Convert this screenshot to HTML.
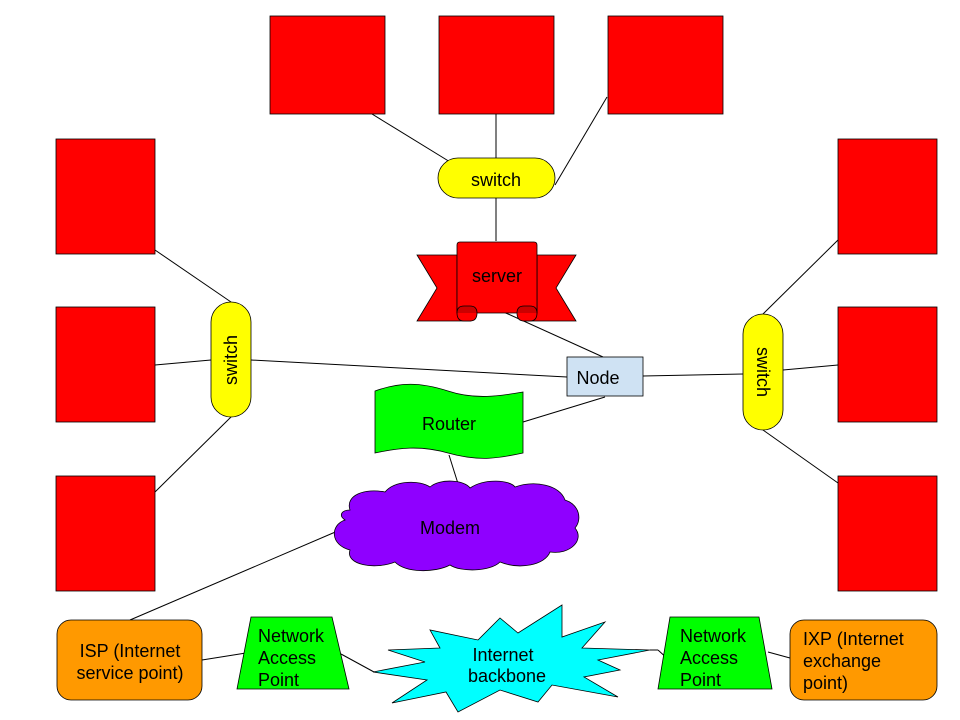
<!DOCTYPE html>
<html><head><meta charset="utf-8"><style>
html,body{margin:0;padding:0;background:#fff;width:960px;height:720px;overflow:hidden}
svg{display:block}
text{font-family:"Liberation Sans",Arial,sans-serif;font-size:18px;fill:#000}
</style></head><body>
<svg width="960" height="720" viewBox="0 0 960 720" xmlns="http://www.w3.org/2000/svg">
<g stroke="#000" stroke-width="1" fill="none">
<line x1="372" y1="114" x2="455" y2="165"/>
<line x1="496" y1="114" x2="496" y2="158"/>
<line x1="607" y1="97" x2="555" y2="185"/>
<line x1="496" y1="198" x2="496" y2="241"/>
<line x1="497" y1="309" x2="603" y2="357"/>
<line x1="251" y1="360" x2="567" y2="377"/>
<line x1="643" y1="376" x2="743" y2="374"/>
<line x1="605" y1="397" x2="523" y2="422"/>
<line x1="449" y1="455" x2="460" y2="490"/>
<line x1="340" y1="530" x2="130" y2="620"/>
<line x1="231" y1="302" x2="155" y2="250"/>
<line x1="211" y1="360" x2="155" y2="365"/>
<line x1="231" y1="417" x2="155" y2="492"/>
<line x1="763" y1="314" x2="838" y2="240"/>
<line x1="783" y1="370" x2="838" y2="365"/>
<line x1="763" y1="430" x2="838" y2="483"/>
<line x1="202" y1="660" x2="246" y2="653"/>
<line x1="341" y1="654" x2="374" y2="672"/>
<line x1="650" y1="650" x2="658" y2="650"/>
<line x1="658" y1="650" x2="669" y2="660"/>
<line x1="768" y1="652" x2="790" y2="658"/>
</g>
<g fill="#ff0000" stroke="#000" stroke-width="0.8">
<rect x="270" y="16" width="115" height="98"/>
<rect x="439" y="16" width="115" height="98"/>
<rect x="608" y="16" width="115" height="98"/>
<rect x="56" y="139" width="99" height="115"/>
<rect x="56" y="307" width="99" height="115"/>
<rect x="56" y="476" width="99" height="115"/>
<rect x="838" y="139" width="99" height="115"/>
<rect x="838" y="307" width="99" height="115"/>
<rect x="838" y="476" width="99" height="115"/>
</g>
<g fill="#ffff00" stroke="#000" stroke-width="0.8">
<rect x="438" y="158" width="117" height="40" rx="20"/>
<rect x="211" y="302" width="40" height="115" rx="20"/>
<rect x="743" y="314" width="40" height="116" rx="20"/>
</g>
<text x="496" y="186" text-anchor="middle">switch</text>
<text transform="translate(237,360) rotate(-90)" text-anchor="middle">switch</text>
<text transform="translate(757,372) rotate(90)" text-anchor="middle">switch</text>
<g fill="#ff0000" stroke="#000" stroke-width="0.8">
<polygon points="417,255 457,255 457,313 470,321 417,321 437,288"/>
<polygon points="576,255 537,255 537,313 524,321 576,321 556,288"/>
<path d="M460,242 H534 Q537,242 537,245 V313 Q537,321 530,321 H524 Q517,321 517,313 H477 Q477,321 470,321 H464 Q457,321 457,313 V245 Q457,242 460,242 Z" fill="#ff0000"/>
<path d="M457,313 Q457,306 464,306 H470 Q477,306 477,313" fill="#cc0000"/>
<path d="M517,313 Q517,306 524,306 H530 Q537,306 537,313" fill="#cc0000"/>
</g>
<text x="497" y="282" text-anchor="middle">server</text>
<rect x="567" y="357" width="76" height="39" fill="#cfe2f3" stroke="#000" stroke-width="0.8"/>
<text x="598" y="384" text-anchor="middle">Node</text>
<path d="M375,391 C400,382 420,382 448,391 C475,400 500,396 523,392 V453 C500,458 480,462 448,453 C420,445 398,448 375,453 Z" fill="#00ff00" stroke="#000" stroke-width="0.8"/>
<text x="449" y="430" text-anchor="middle">Router</text>
<path d="M350,510 C345,495 365,488 385,492 C395,480 420,480 430,487 C440,478 465,480 470,488 C485,478 510,480 515,487 C535,480 560,485 565,500 C580,505 582,520 575,528 C585,540 570,555 550,552 C545,565 520,570 500,562 C490,572 460,572 450,565 C435,573 405,573 395,562 C375,570 345,565 350,550 C330,545 330,525 345,520 C338,515 342,510 350,510 Z" fill="#8f00ff" stroke="#000" stroke-width="0.8"/>
<text x="450" y="534" text-anchor="middle">Modem</text>
<rect x="57" y="620" width="145" height="80" rx="14" fill="#ff9900" stroke="#000" stroke-width="0.8"/>
<text x="130" y="657" text-anchor="middle">ISP (Internet</text>
<text x="130" y="679" text-anchor="middle">service point)</text>
<rect x="790" y="620" width="147" height="80" rx="14" fill="#ff9900" stroke="#000" stroke-width="0.8"/>
<text x="803" y="645">IXP (Internet</text>
<text x="803" y="667">exchange</text>
<text x="803" y="689">point)</text>
<polygon points="251,617 332,617 349,689 237,689" fill="#00ff00" stroke="#000" stroke-width="0.8"/>
<text x="258" y="642">Network</text>
<text x="258" y="664">Access</text>
<text x="258" y="686">Point</text>
<polygon points="670,617 759,617 772,689 658,689" fill="#00ff00" stroke="#000" stroke-width="0.8"/>
<text x="680" y="642">Network</text>
<text x="680" y="664">Access</text>
<text x="680" y="686">Point</text>
<polygon points="373,672 425,662 388,650 440,648 430,630 478,640 500,618 518,633 562,605 562,637 605,622 582,648 650,650 598,660 620,670 584,677 618,697 552,685 538,702 500,690 458,712 446,692 392,703 427,680" fill="#00ffff" stroke="#000" stroke-width="0.8"/>
<text x="503" y="661" text-anchor="middle">Internet</text>
<text x="507" y="682" text-anchor="middle">backbone</text>
</svg>
</body></html>
